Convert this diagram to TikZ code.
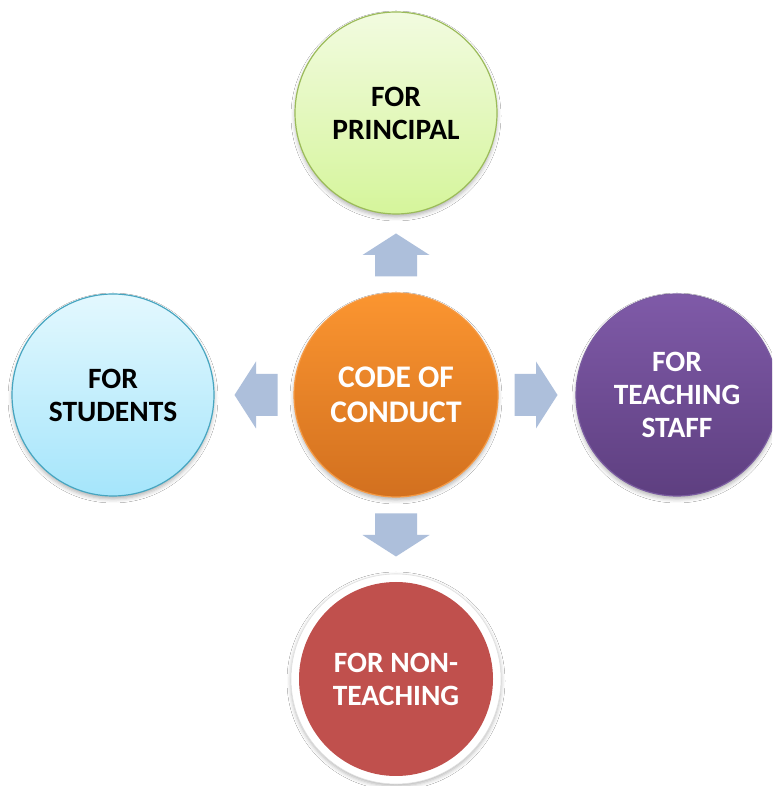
\documentclass[tikz,border=0pt]{standalone}
\usepackage{fontspec}
\setmainfont{Carlito}
\usetikzlibrary{shadows.blur}

\definecolor{greenTop}{HTML}{F2FBE0}
\definecolor{greenBot}{HTML}{D5F59B}
\definecolor{greenLine}{HTML}{9BBB59}
\definecolor{blueTop}{HTML}{E3F8FE}
\definecolor{blueBot}{HTML}{A5E5FB}
\definecolor{blueLine}{HTML}{46A5C0}
\definecolor{orangeTop}{HTML}{FB9530}
\definecolor{orangeBot}{HTML}{D2701F}
\definecolor{orangeLine}{HTML}{F59A45}
\definecolor{purpleTop}{HTML}{7F5AA8}
\definecolor{purpleBot}{HTML}{5E3F80}
\definecolor{purpleLine}{HTML}{7A5CA0}
\definecolor{redFill}{HTML}{C0504D}
\definecolor{arrowFill}{HTML}{ADBFDB}

\tikzset{
  bubble/.style={circle, inner sep=0pt, align=center, line width=1.2pt,
    font=\fontsize{29.5}{33}\selectfont\bfseries,
    blur shadow={shadow xshift=0pt, shadow yshift=-3pt,
      shadow blur radius=4pt, shadow opacity=30}},
  arrowshape/.style={fill=arrowFill, draw=none}
}

\begin{document}
\begin{tikzpicture}[x=1pt,y=1pt]
  \useasboundingbox (0,0) rectangle (772,786);
  \clip (0,0) rectangle (772,786);
  \fill[white] (0,0) rectangle (772,786);

  % central hub
  \node[bubble, minimum size=204pt, draw=orangeLine,
        top color=orangeTop, bottom color=orangeBot, text=white,
        font=\fontsize{31.5}{35}\selectfont\bfseries]
        (code) at (396,391) {CODE OF\\CONDUCT};

  % surrounding groups
  \node[bubble, minimum size=202pt, draw=greenLine,
        top color=greenTop, bottom color=greenBot, text=black]
        (principal) at (396,673) {FOR\\PRINCIPAL};
  \node[bubble, minimum size=202pt, draw=blueLine,
        top color=blueTop, bottom color=blueBot, text=black]
        (students) at (113,391) {FOR\\STUDENTS};
  \node[bubble, minimum size=202pt, draw=purpleLine,
        top color=purpleTop, bottom color=purpleBot, text=white]
        (teaching) at (677,391) {FOR\\TEACHING\\STAFF};

  % red disc inside a white ring
  \node[circle, minimum size=210pt, fill=white, draw=black!12, line width=0.6pt,
        blur shadow={shadow xshift=0pt, shadow yshift=-2pt,
          shadow blur radius=4pt, shadow opacity=30}]
        (ring) at (396,107) {};
  \node[circle, minimum size=194pt, inner sep=0pt, align=center,
        fill=redFill, text=white,
        font=\fontsize{29.5}{33}\selectfont\bfseries]
        (nonteaching) at (ring.center) {FOR NON-\\TEACHING};

  % block arrows pointing outward from the hub
  \foreach \ang in {0,90,180,270}{
    \begin{scope}[shift={(code.center)}, rotate=\ang]
      \fill[arrowshape] (118.5,-21) -- (140,-21) -- (140,-33.5) -- (161.5,0)
        -- (140,33.5) -- (140,21) -- (118.5,21) -- cycle;
    \end{scope}
  }
\end{tikzpicture}
\end{document}
